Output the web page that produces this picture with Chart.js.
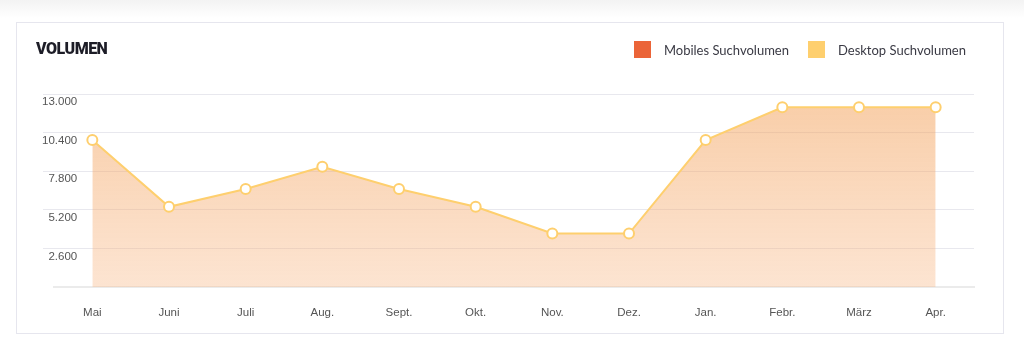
<!DOCTYPE html>
<html>
<head>
<meta charset="utf-8">
<script src="https://cdn.jsdelivr.net/npm/chart.js@4/dist/chart.umd.min.js"></script>
<style>
  html, body { margin: 0; padding: 0; width: 1024px; height: 360px; overflow: hidden; background: #fff; }
  #shade { position: absolute; left: 0; top: 0; width: 1024px; height: 18px; background: linear-gradient(#f3f3f3, #ffffff); }
  #card { position: absolute; left: 16px; top: 22px; width: 986px; height: 310px; border: 1px solid #e6e6ee; background: #fff; }
  #chart { position: absolute; left: 0; top: 0; }
  #title { position: absolute; left: 36px; top: 40px; font-family: Roboto, sans-serif; font-weight: 900; font-size: 16px; line-height: 18px; color: #1d1d27; letter-spacing: -0.5px; }
  #legend { position: absolute; right: 58px; top: 41px; height: 17px; display: flex; align-items: center; font-family: Lato, sans-serif; font-size: 13px; color: #3a3a44; }
  .item { display: flex; align-items: center; }
  .item + .item { margin-left: 19px; }
  .box { width: 17px; height: 17px; margin-right: 13px; }
</style>
</head>
<body>
<div id="shade"></div>
<div id="card"></div>
<canvas id="chart" width="1024" height="360"></canvas>
<div id="title">VOLUMEN</div>
<div id="legend"></div>
<script>
const categories = ['Mai', 'Juni', 'Juli', 'Aug.', 'Sept.', 'Okt.', 'Nov.', 'Dez.', 'Jan.', 'Febr.', 'März', 'Apr.'];
const seriesNames = ['Mobiles Suchvolumen', 'Desktop Suchvolumen'];
const mobileVolume = [];
const desktopVolume = [9900, 5400, 6600, 8100, 6600, 5400, 3600, 3600, 9900, 12100, 12100, 12100];
const yTickValues = [0, 2600, 5200, 7800, 10400, 13000];
const yTickLabels = ['', '2.600', '5.200', '7.800', '10.400', '13.000'];

const MOBILE_COLOR = '#EB6438';
const DESKTOP_COLOR = '#FECF6E';
const AXIS_FONT = { family: '"Liberation Sans", Arial, sans-serif', size: 11.5 };

function desktopFill(context) {
  const chart = context.chart;
  const area = chart.chartArea;
  if (!area) return 'rgba(243,160,86,0.45)';
  const g = chart.ctx.createLinearGradient(0, area.top, 0, area.bottom);
  g.addColorStop(0, 'rgba(242,158,84,0.52)');
  g.addColorStop(1, 'rgba(248,180,128,0.36)');
  return g;
}

const chart = new Chart(document.getElementById('chart'), {
  type: 'line',
  data: {
    labels: categories,
    datasets: [
      {
        label: seriesNames[0],
        data: mobileVolume,
        borderColor: MOBILE_COLOR,
        backgroundColor: MOBILE_COLOR,
        fill: 'origin'
      },
      {
        label: seriesNames[1],
        data: desktopVolume,
        borderColor: DESKTOP_COLOR,
        borderWidth: 2,
        backgroundColor: desktopFill,
        fill: 'origin',
        tension: 0,
        pointRadius: 5,
        pointBorderWidth: 2,
        pointBackgroundColor: '#ffffff',
        pointBorderColor: DESKTOP_COLOR
      }
    ]
  },
  options: {
    responsive: false,
    animation: false,
    layout: { autoPadding: false, padding: { left: 30, right: 50, top: 94, bottom: 33 } },
    plugins: {
      legend: { display: false },
      title: { display: false },
      tooltip: { enabled: false }
    },
    scales: {
      x: {
        offset: true,
        grid: { display: false, drawTicks: false },
        border: { display: true, color: '#ebebeb', width: 2 },
        ticks: { color: '#555', font: AXIS_FONT, padding: 19, maxRotation: 0, autoSkip: false },
        afterFit: s => { s.height = 40; }
      },
      y: {
        min: 0,
        max: 13000,
        afterBuildTicks: s => { s.ticks = yTickValues.map(v => ({ value: v })); },
        afterFit: s => { s.width = 24; },
        border: { display: false },
        grid: {
          drawTicks: true,
          tickLength: 11,
          color: c => (c.tick && c.tick.value === 0) ? 'rgba(0,0,0,0)' : '#e8e8ee',
          lineWidth: 1
        },
        ticks: {
          color: '#555',
          font: AXIS_FONT,
          mirror: true,
          crossAlign: 'far',
          padding: -12,
          labelOffset: 8,
          callback: (v, i) => yTickLabels[i]
        }
      }
    }
  }
});

// HTML legend built from the chart's datasets
const legendEl = document.getElementById('legend');
chart.data.datasets.forEach(ds => {
  const item = document.createElement('div');
  item.className = 'item';
  const box = document.createElement('div');
  box.className = 'box';
  box.style.background = ds.borderColor;
  const txt = document.createElement('span');
  txt.textContent = ds.label;
  item.appendChild(box);
  item.appendChild(txt);
  legendEl.appendChild(item);
});
</script>
</body>
</html>
